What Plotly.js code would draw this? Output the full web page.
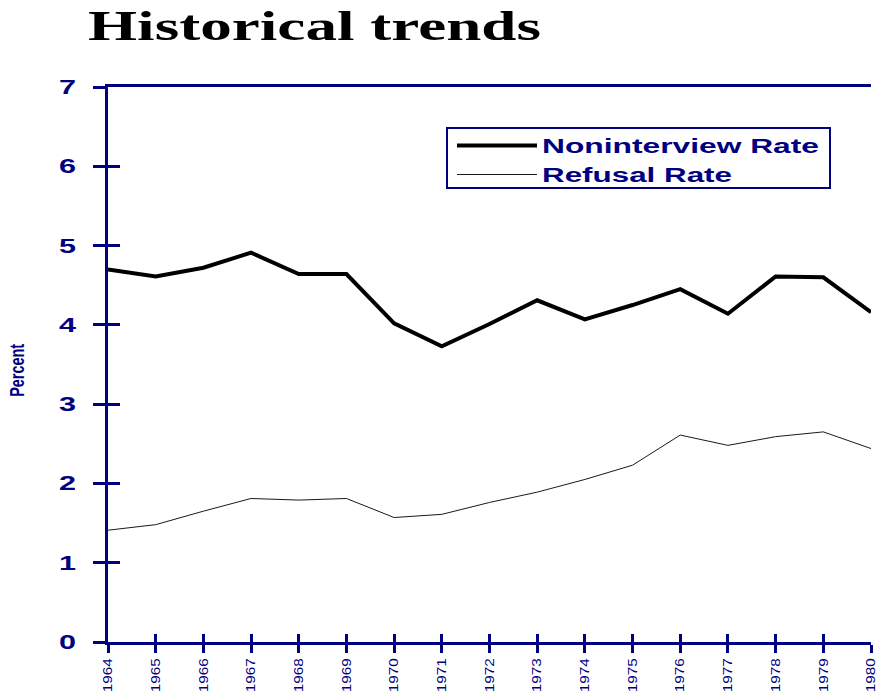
<!DOCTYPE html>
<html>
<head>
<meta charset="utf-8">
<script src="https://cdn.plot.ly/plotly-3.0.1.min.js"></script>
<style>html,body{margin:0;padding:0;background:#fff;}#chart{width:881px;height:694px;}</style>
</head>
<body>
<div id="chart"></div>
<script>
const years = [1964,1965,1966,1967,1968,1969,1970,1971,1972,1973,1974,1975,1976,1977,1978,1979,1980];
const yearLabels = years.map(String);
const noninterviewRate = [4.70,4.61,4.72,4.91,4.64,4.64,4.02,3.73,4.01,4.31,4.07,4.25,4.45,4.14,4.61,4.60,4.16];
const refusalRate = [1.41,1.48,1.65,1.81,1.79,1.81,1.57,1.61,1.76,1.89,2.05,2.23,2.61,2.48,2.59,2.65,2.44];
const seriesNames = ["Noninterview Rate","Refusal Rate"];
const yTicks = [0,1,2,3,4,5,6,7];

const navy = "#000080";

const traces = [
  {x: years, y: noninterviewRate, name: seriesNames[0], type: "scatter", mode: "lines",
   line: {color: "#000000", width: 4}, xaxis: "x", yaxis: "y", hoverinfo: "skip"},
  {x: years, y: refusalRate, name: seriesNames[1], type: "scatter", mode: "lines",
   line: {color: "#1a1a1a", width: 1}, xaxis: "x2", yaxis: "y2", hoverinfo: "skip"}
];

const layout = {
  width: 881, height: 694,
  margin: {l: 108, r: 10, t: 87, b: 52},
  paper_bgcolor: "#ffffff", plot_bgcolor: "#ffffff",
  showlegend: true,
  title: {text: "Historical trends", font: {family: "Liberation Serif", size: 42, weight: "bold", color: "#000000"},
          xref: "container", x: 88/881, xanchor: "left", yref: "container", y: 1 - 25/694, yanchor: "middle"},
  xaxis: {range: [1964, 1980], tickvals: years, ticktext: yearLabels, tickangle: -90,
          tickfont: {family: "Arial", size: 13, color: navy},
          ticks: "outside", ticklen: 8, tickwidth: 3, tickcolor: navy,
          showline: true, linecolor: navy, linewidth: 3, mirror: true,
          showgrid: false, zeroline: false, fixedrange: true},
  xaxis2: {overlaying: "x", anchor: "y", side: "bottom", range: [1964, 1980], tickvals: years,
           ticks: "inside", ticklen: 8, tickwidth: 3, tickcolor: navy,
           showticklabels: false, showline: false, showgrid: false, zeroline: false},
  yaxis: {range: [0, 7], tickvals: yTicks, tickfont: {family: "Arial", size: 20, weight: "bold", color: navy},
          ticks: "outside", ticklen: 12, tickwidth: 3, tickcolor: navy, ticklabelstandoff: 13,
          showline: true, linecolor: navy, linewidth: 3, mirror: false,
          showgrid: false, zeroline: false, fixedrange: true},
  yaxis2: {overlaying: "y", anchor: "x", side: "left", range: [0, 7], tickvals: yTicks,
           ticks: "inside", ticklen: 12, tickwidth: 3, tickcolor: navy,
           showticklabels: false, showline: false, showgrid: false, zeroline: false},
  legend: {x: (452-108)/763, xanchor: "left", y: (642-126)/555, yanchor: "top",
           bgcolor: "rgba(0,0,0,0)", borderwidth: 0, itemwidth: 80,
           font: {family: "Arial", size: 20, weight: "bold", color: navy}, tracegroupgap: 0},
  shapes: [{type: "rect", xref: "paper", yref: "paper",
            x0: (447-108)/763, x1: (830-108)/763, y0: (642-188)/555, y1: (642-128)/555,
            line: {color: navy, width: 2}, fillcolor: "rgba(0,0,0,0)", layer: "below"}],
  annotations: [{text: "Percent", xref: "paper", yref: "paper", x: 0, y: 0.49, xshift: -91,
                 xanchor: "center", yanchor: "middle", textangle: -90, showarrow: false,
                 font: {family: "Arial", size: 20, weight: "bold", color: navy}}]
};

function stretch(el, len) {
  el.setAttribute("textLength", String(len));
  el.setAttribute("lengthAdjust", "spacingAndGlyphs");
}

Plotly.newPlot("chart", traces, layout, {displayModeBar: false, staticPlot: true}).then(function(gd){
  const t = gd.querySelector(".gtitle");
  if (t) stretch(t, 453);
  gd.querySelectorAll(".legend [clip-path]").forEach(function(el){ el.removeAttribute("clip-path"); });
  const lens = [277, 190];
  gd.querySelectorAll(".legendtext").forEach(function(el, i){ stretch(el, lens[i]); });
  gd.querySelectorAll(".ytick text").forEach(function(el){ stretch(el, 17); });
  gd.querySelectorAll(".xtick text").forEach(function(el){ stretch(el, 34); });
  gd.querySelectorAll(".annotation-text").forEach(function(el){ stretch(el, 53); });
});
</script>
</body>
</html>
